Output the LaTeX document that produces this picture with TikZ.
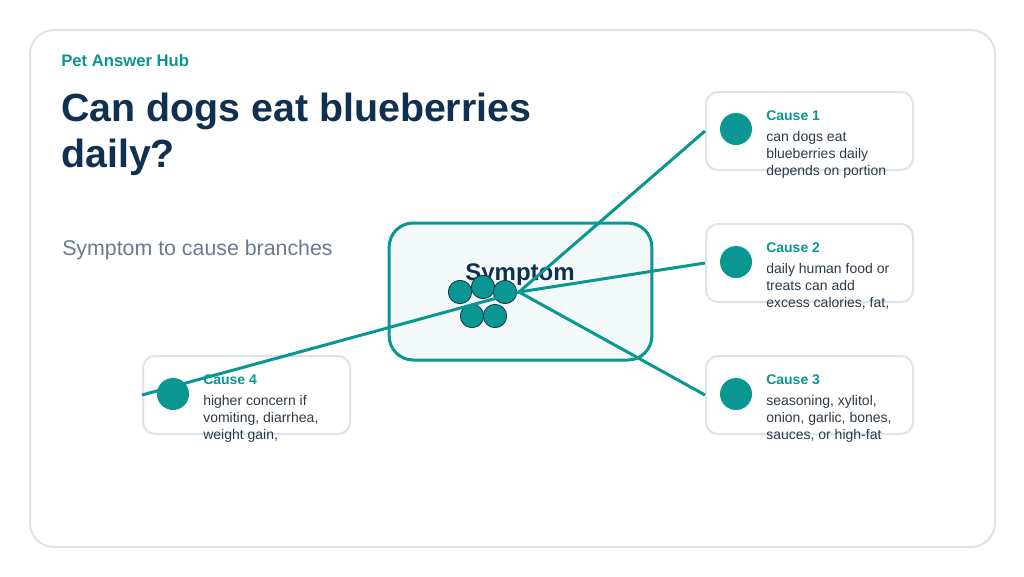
\documentclass[tikz,border=0pt]{standalone}
\usepackage{fontspec}
\setmainfont{Liberation Sans}
\definecolor{teal0}{HTML}{0A9692}
\definecolor{navy}{HTML}{0F3050}
\definecolor{framec}{HTML}{DCE4EB}
\definecolor{subc}{HTML}{6B7A90}
\definecolor{bodyc}{HTML}{2E3A45}
\definecolor{hubfill}{HTML}{F4F9FA}
\newcommand\causeitem[7]{%
  \node[causebox, anchor=north west] (#1) at (#2,#3) {};
  \node[causelabel] (#1lab) at (#2+61,#3+29) {#4};
  \node[causetext] (#1a) at (#2+61,#3+50.5) {#5};
  \node[causetext] (#1b) at (#2+61,#3+67) {#6};
  \node[causetext] (#1c) at (#2+61,#3+84) {#7};
}
\begin{document}
\begin{tikzpicture}[x=0.75pt,y=-0.75pt,
  causebox/.style={draw=framec, line width=1.5pt, fill=white, rounded corners=9pt,
    minimum width=155.25pt, minimum height=58.5pt, inner sep=0pt},
  causelabel/.style={anchor=base west, inner sep=0pt, text=teal0, font=\fontsize{10.5}{12}\selectfont\bfseries},
  causetext/.style={anchor=base west, inner sep=0pt, text=bodyc, font=\fontsize{10.5}{12}\selectfont},
  bigdot/.style={circle, fill=teal0, minimum size=24pt, inner sep=0pt},
  smalldot/.style={circle, fill=teal0, draw=navy, line width=0.6pt, minimum size=17.5pt, inner sep=0pt},
  connector/.style={draw=teal0, line width=2.25pt},
]
\useasboundingbox (0,0) rectangle (1024,576);
\draw[framec, line width=1.5pt, fill=white, rounded corners=18pt] (30,30) rectangle (995,547);
\node[anchor=base west, inner sep=0pt, text=teal0, font=\fontsize{12.5}{14}\selectfont\bfseries] (brand) at (61,66) {Pet Answer Hub};
\node[anchor=base west, inner sep=0pt, text=navy, font=\fontsize{29.5}{32}\selectfont\bfseries] (title1) at (61,121) {Can dogs eat blueberries};
\node[anchor=base west, inner sep=0pt, text=navy, font=\fontsize{29.5}{32}\selectfont\bfseries] (title2) at (61,167) {daily?};
\node[anchor=base west, inner sep=0pt, text=subc, font=\fontsize{16}{18}\selectfont] (subtitle) at (62,255) {Symptom to cause branches};
% centre
\node[draw=teal0, line width=2.25pt, fill=hubfill, rounded corners=18pt, minimum width=197pt, minimum height=102.75pt, inner sep=0pt] (sym) at (520.5,291.5) {};
\node[anchor=base, inner sep=0pt, text=navy, font=\fontsize{18}{20}\selectfont\bfseries] (symlab) at (520,280) {Symptom};
\coordinate (hub) at (519,292);
% causes
\causeitem{c1}{705}{91}{Cause 1}{can dogs eat}{blueberries daily}{depends on portion}
\causeitem{c2}{705}{223}{Cause 2}{daily human food or}{treats can add}{excess calories, fat,}
\causeitem{c3}{705}{355}{Cause 3}{seasoning, xylitol,}{onion, garlic, bones,}{sauces, or high-fat}
\causeitem{c4}{142}{355}{Cause 4}{higher concern if}{vomiting, diarrhea,}{weight gain,}
% small dots
\node[smalldot] (d1) at (460,292) {};
\node[smalldot] (d2) at (483,287) {};
\node[smalldot] (d3) at (505,292) {};
\node[smalldot] (d4) at (472,316) {};
\node[smalldot] (d5) at (495,316) {};
% connectors
\draw[connector] (hub) -- (c1.west);
\draw[connector] (hub) -- (c2.west);
\draw[connector] (hub) -- (c3.west);
\draw[connector] (hub) -- (c4.west);
% cause dots
\node[bigdot] (c1dot) at (736,129) {};
\node[bigdot] (c2dot) at (736,262) {};
\node[bigdot] (c3dot) at (736,394) {};
\node[bigdot] (c4dot) at (173,394) {};
\end{tikzpicture}
\end{document}
